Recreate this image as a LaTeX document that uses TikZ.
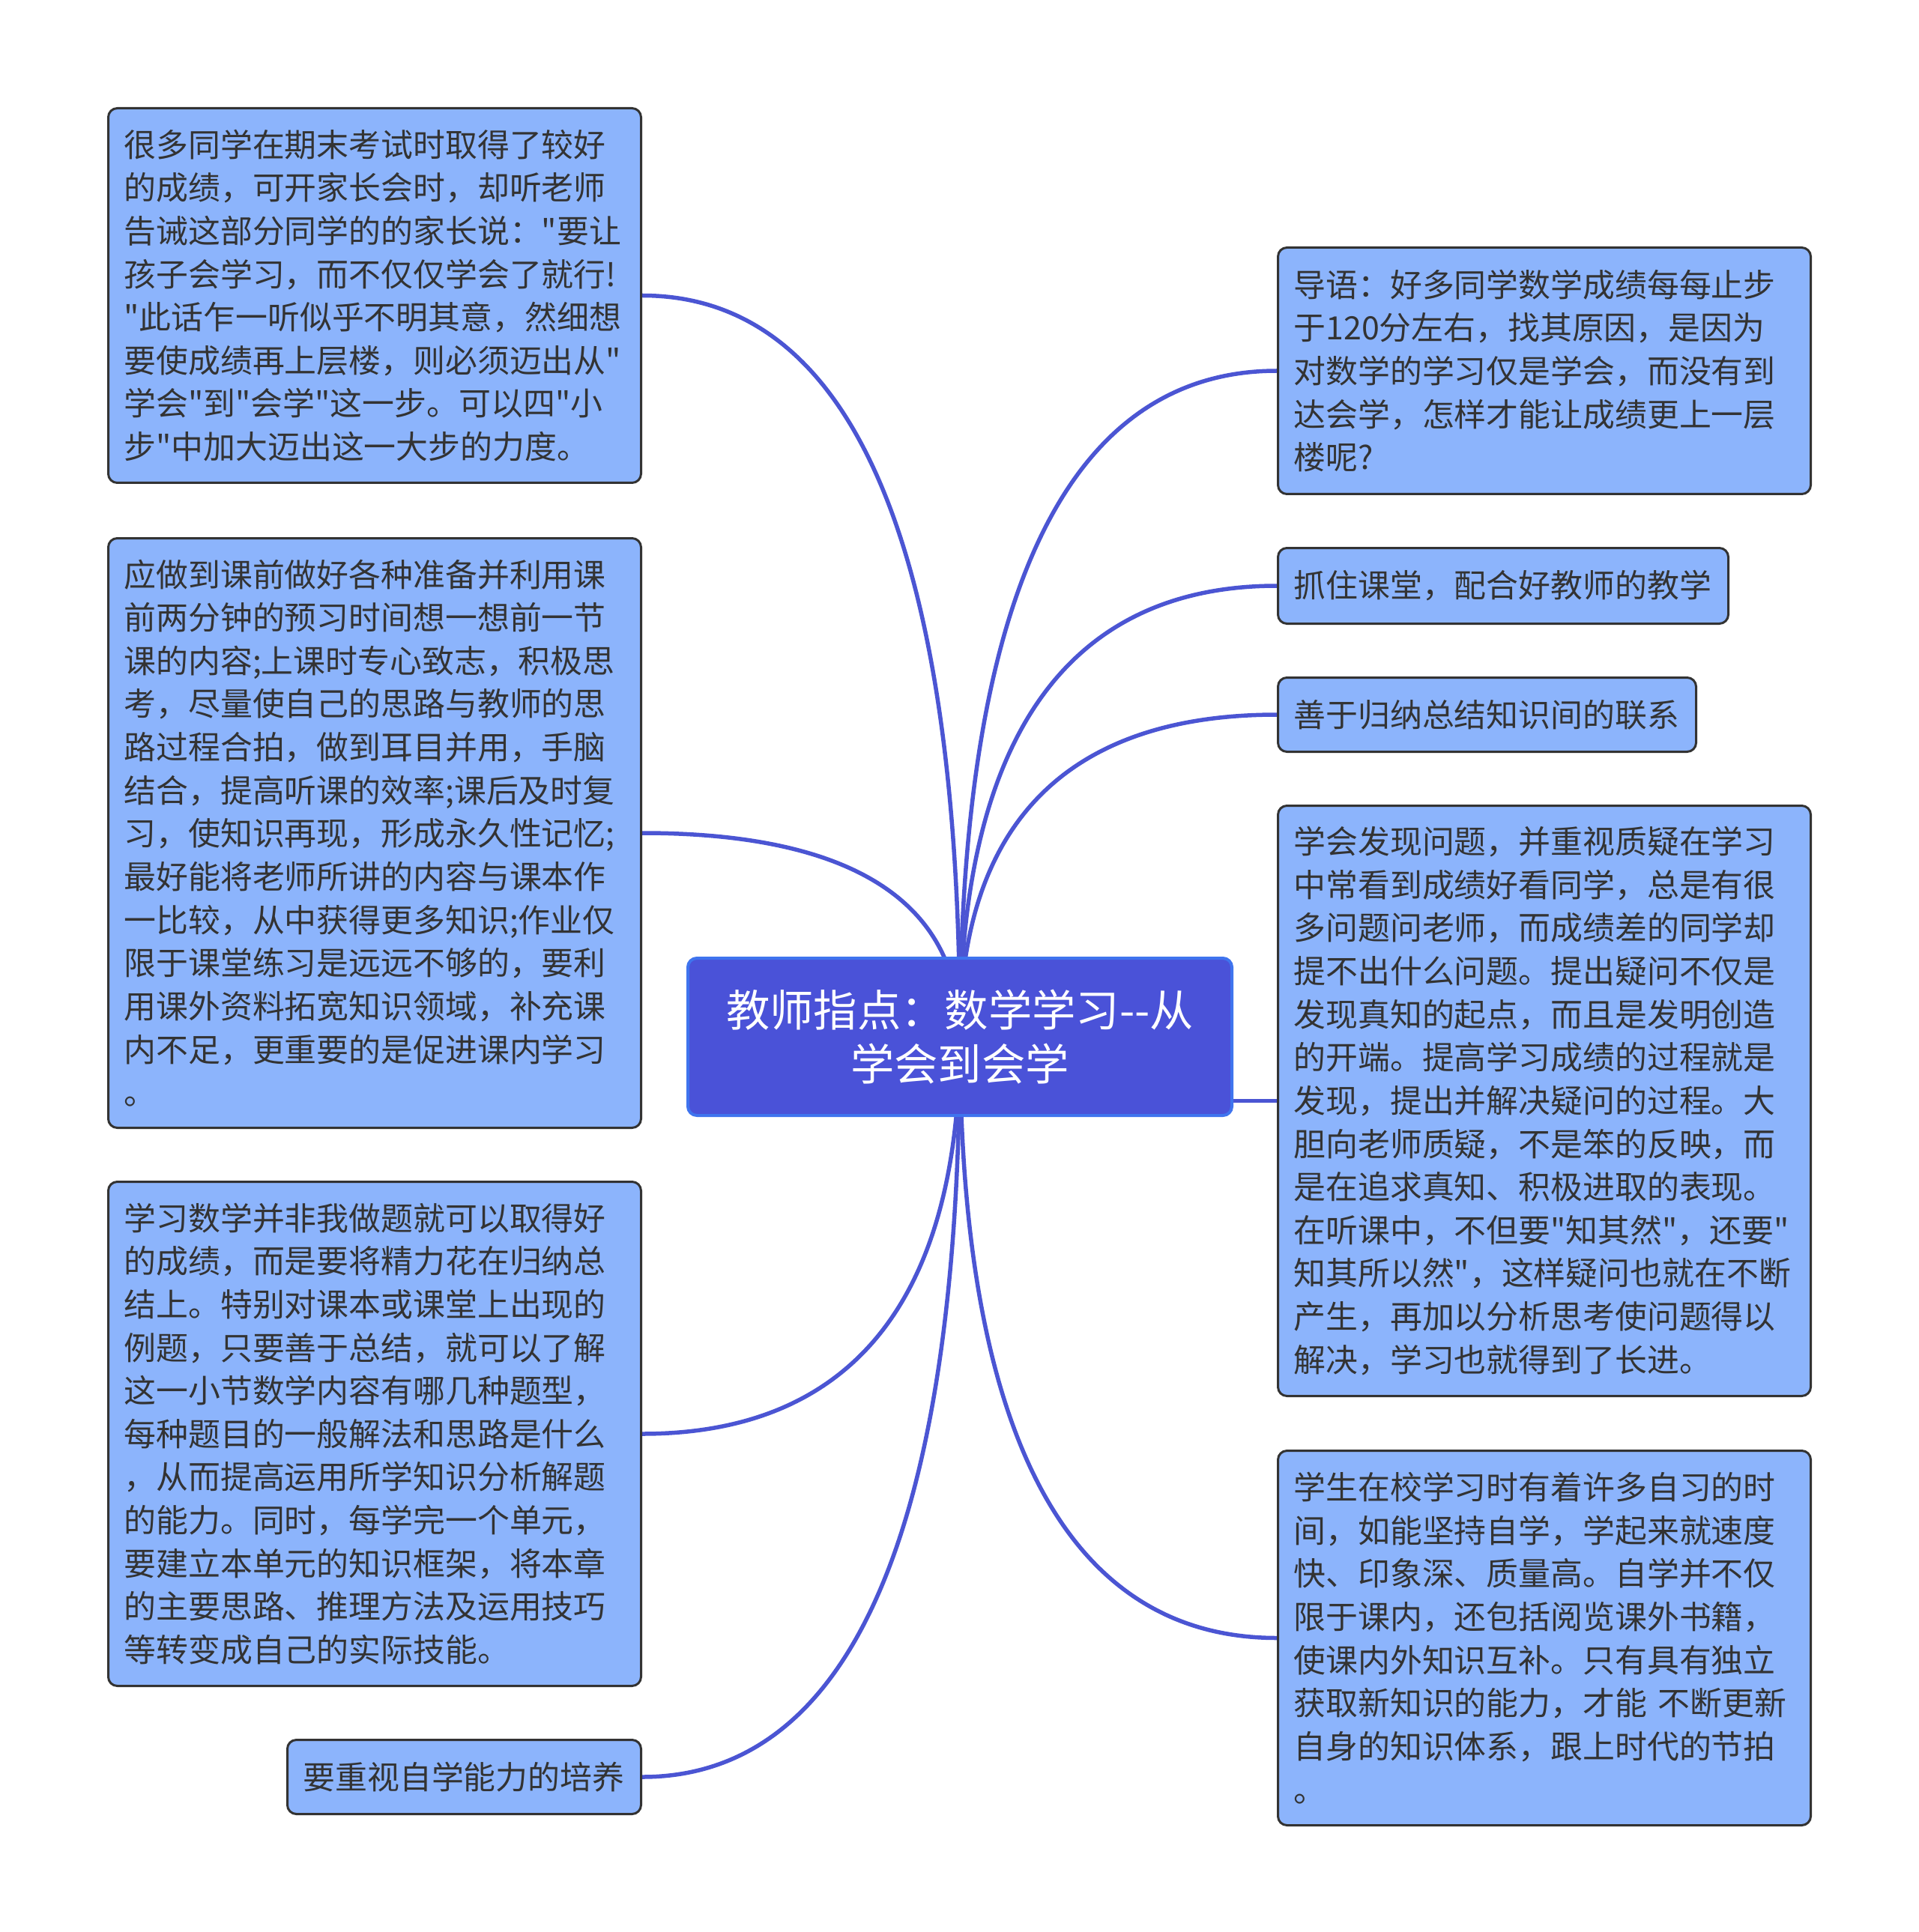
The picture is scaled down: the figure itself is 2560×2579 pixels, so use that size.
\documentclass[tikz,border=0pt]{standalone}
\usepackage{fontspec}
\newfontfamily\cjk{Noto Sans CJK SC}
\usepackage{xcolor}
\usetikzlibrary{backgrounds,calc}
\definecolor{leaffill}{HTML}{8CB4FC}
\definecolor{rootfill}{HTML}{4A52D8}
\definecolor{rootline}{HTML}{3F74EE}
\definecolor{branchc}{HTML}{4B55D3}
\definecolor{textc}{HTML}{333333}

\tikzset{
  leaf/.style={draw=textc, line width=0.3mm, fill=leaffill, rounded corners=1.2mm,
    text=textc, align=left, inner xsep=2.1mm, inner ysep=0mm, anchor=north west,
    font=\cjk\fontsize{12.2}{16.4}\selectfont},
  root/.style={draw=rootline, line width=0.4mm, fill=rootfill, rounded corners=1.2mm,
    text=white, align=center, anchor=north west, minimum width=72.6mm,
    minimum height=21mm, font=\cjk\fontsize{16.6}{20.5}\selectfont},
  branch/.style={draw=branchc, line width=0.55mm}
}

\begin{document}
\begin{tikzpicture}[x=0.1mm, y=-0.1mm]
  \useasboundingbox (0,0) rectangle (2560,2579);

  % centre
  \node[root] (cen) at (916,1277) {教师指点：数学学习--从\\学会到会学};

  % left side
  \node[leaf, text width=66.9mm, minimum height=50mm] (l1) at (143,143)
    {很多同学在期末考试时取得了较好\\的成绩，可开家长会时，却听老师\\告诫这部分同学的的家长说："要让\\孩子会学习，而不仅仅学会了就行!\\"此话乍一听似乎不明其意，然细想\\要使成绩再上层楼，则必须迈出从"\\学会"到"会学"这一步。可以四"小\\步"中加大迈出这一大步的力度。};
  \node[leaf, text width=66.9mm, minimum height=78.7mm] (l2) at (143,717)
    {应做到课前做好各种准备并利用课\\前两分钟的预习时间想一想前一节\\课的内容;上课时专心致志，积极思\\考，尽量使自己的思路与教师的思\\路过程合拍，做到耳目并用，手脑\\结合，提高听课的效率;课后及时复\\习，使知识再现，形成永久性记忆;\\最好能将老师所讲的内容与课本作\\一比较，从中获得更多知识;作业仅\\限于课堂练习是远远不够的，要利\\用课外资料拓宽知识领域，补充课\\内不足，更重要的是促进课内学习\\。};
  \node[leaf, text width=66.9mm, minimum height=67.3mm] (l3) at (143,1576)
    {学习数学并非我做题就可以取得好\\的成绩，而是要将精力花在归纳总\\结上。特别对课本或课堂上出现的\\例题，只要善于总结，就可以了解\\这一小节数学内容有哪几种题型，\\每种题目的一般解法和思路是什么\\，从而提高运用所学知识分析解题\\的能力。同时，每学完一个单元，\\要建立本单元的知识框架，将本章\\的主要思路、推理方法及运用技巧\\等转变成自己的实际技能。};
  \node[leaf, text width=43mm, minimum height=9.9mm] (l4) at (382,2321)
    {要重视自学能力的培养};

  % right side
  \node[leaf, text width=66.9mm, minimum height=32.9mm] (r1) at (1704,329)
    {导语：好多同学数学成绩每每止步\\于120分左右，找其原因，是因为\\对数学的学习仅是学会，而没有到\\达会学，怎样才能让成绩更上一层\\楼呢?};
  \node[leaf, text width=55.9mm, minimum height=10.1mm] (r2) at (1704,730)
    {抓住课堂，配合好教师的教学};
  \node[leaf, text width=51.6mm, minimum height=9.9mm] (r3) at (1704,903)
    {善于归纳总结知识间的联系};
  \node[leaf, text width=66.9mm, minimum height=78.8mm] (r4) at (1704,1074)
    {学会发现问题，并重视质疑在学习\\中常看到成绩好看同学，总是有很\\多问题问老师，而成绩差的同学却\\提不出什么问题。提出疑问不仅是\\发现真知的起点，而且是发明创造\\的开端。提高学习成绩的过程就是\\发现，提出并解决疑问的过程。大\\胆向老师质疑，不是笨的反映，而\\是在追求真知、积极进取的表现。\\在听课中，不但要"知其然"，还要"\\知其所以然"，这样疑问也就在不断\\产生，再加以分析思考使问题得以\\解决，学习也就得到了长进。};
  \node[leaf, text width=66.9mm, minimum height=50mm] (r5) at (1704,1935)
    {学生在校学习时有着许多自习的时\\间，如能坚持自学，学起来就速度\\快、印象深、质量高。自学并不仅\\限于课内，还包括阅览课外书籍，\\使课内外知识互补。只有具有独立\\获取新知识的能力，才能 不断更新\\自身的知识体系，跟上时代的节拍\\。};

  % page and branches, behind the centre node
  \begin{pgfonlayer}{background}
  \fill[white] (0,0) rectangle (2560,2579);
  \foreach \n/\a in {l1/east,l2/east,l3/east,l4/east,r1/west,r2/west,r3/west,r5/west}
    \draw[branch] (cen.center)
      .. controls ($(cen.center)!0.72!(cen.center |- \n.\a)$)
             and ($(\n.\a)!0.6!(cen.center |- \n.\a)$) .. (\n.\a);
  \draw[branch] (r4.west -| cen.center) -- (r4.west);
  \end{pgfonlayer}
\end{tikzpicture}
\end{document}
